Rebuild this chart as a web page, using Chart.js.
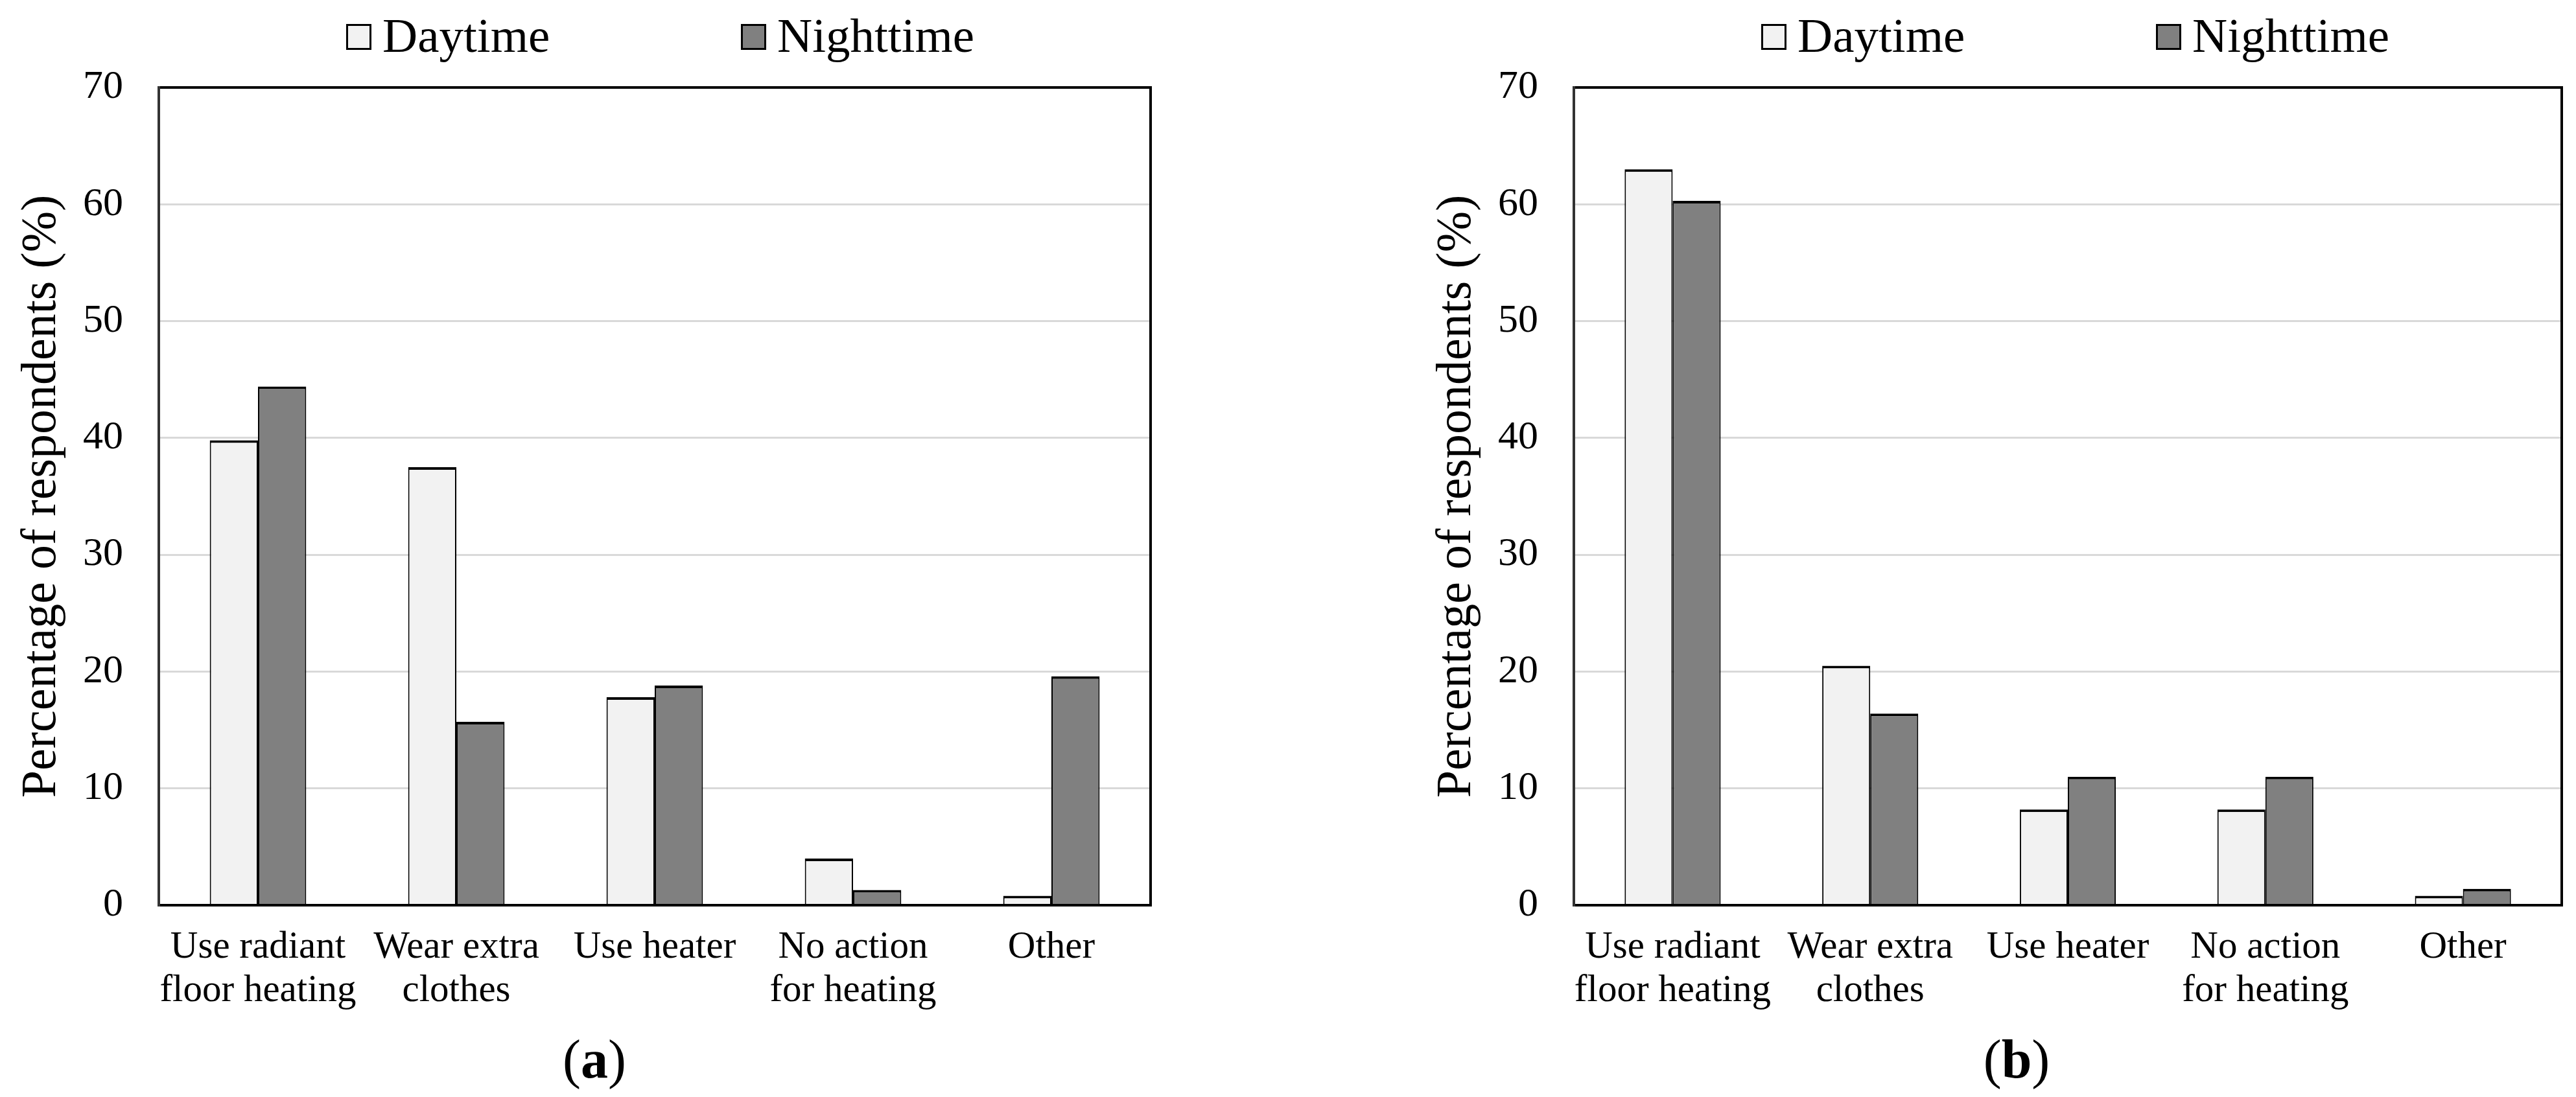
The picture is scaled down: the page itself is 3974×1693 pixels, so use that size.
<!DOCTYPE html>
<html><head><meta charset="utf-8">
<script src="https://cdn.jsdelivr.net/npm/chart.js@4"></script>
<style>
html,body{margin:0;padding:0;background:#fff;}
#wrap{position:relative;width:3974px;height:1693px;background:#fff;}
canvas{position:absolute;top:0;}
</style></head><body>
<div id="wrap">
<canvas id="ca" width="1987" height="1693" style="left:0;width:1987px;height:1693px"></canvas>
<canvas id="cb" width="1987" height="1693" style="left:1987px;width:1987px;height:1693px"></canvas>
</div>
<script>
// ---- data ----
const categories = [["Use radiant","floor heating"],["Wear extra","clothes"],"Use heater",["No action","for heating"],"Other"];
const seriesNames = ["Daytime","Nighttime"];
const dayA   = [39.8, 37.5, 17.8, 4.0, 0.8];
const nightA = [44.4, 15.7, 18.8, 1.3, 19.6];
const dayB   = [63.0, 20.5, 8.2, 8.2, 0.8];
const nightB = [60.3, 16.4, 11.0, 11.0, 1.4];
const yTicks = [0, 10, 20, 30, 40, 50, 60, 70];
const yTitle = "Percentage of respondents (%)";
const panelLabels = ["a", "b"];

const FONT = '"Liberation Serif", "Times New Roman", serif';
Chart.defaults.font.family = FONT;
Chart.defaults.color = '#000';

const fillColors = ['#f2f2f2', '#808080'];

const framePlugin = {
  id: 'frame',
  afterDatasetsDraw(chart) {
    const {ctx, chartArea: a} = chart;
    ctx.save();
    ctx.lineWidth = 4;
    ctx.strokeStyle = '#000';
    ctx.beginPath();
    ctx.moveTo(a.left, a.top); ctx.lineTo(a.right, a.top);
    ctx.moveTo(a.right, a.top - 2); ctx.lineTo(a.right, a.bottom + 2);
    ctx.moveTo(a.left - 2, a.bottom); ctx.lineTo(a.right + 2, a.bottom);
    ctx.stroke();
    ctx.strokeStyle = '#333';
    ctx.beginPath();
    ctx.moveTo(a.left, a.top - 2); ctx.lineTo(a.left, a.bottom + 2);
    ctx.stroke();
    ctx.restore();
  }
};

const legendCaptionPlugin = {
  id: 'legendCaption',
  afterDraw(chart, args, opts) {
    const {ctx, chartArea: a} = chart;
    ctx.save();
    // legend
    chart.data.datasets.forEach((ds, i) => {
      const bx = a.left + opts.itemX[i];
      const by = 37;
      ctx.fillStyle = ds.backgroundColor;
      ctx.fillRect(bx, by, 39, 40);
      ctx.lineWidth = 3;
      ctx.strokeStyle = '#000';
      ctx.strokeRect(bx + 1.5, by + 1.5, 36, 37);
      ctx.fillStyle = '#000';
      ctx.font = '75px ' + FONT;
      ctx.textBaseline = 'alphabetic';
      ctx.textAlign = 'left';
      ctx.fillText(ds.label, bx + 56, 80);
    });
    // caption "(a)"
    const pieces = [['(', 'normal'], [opts.label, 'bold'], [')', 'normal']];
    let total = 0;
    const widths = pieces.map(p => { ctx.font = p[1] + ' 84px ' + FONT; const w = ctx.measureText(p[0]).width; total += w; return w; });
    let x = opts.captionX - total / 2;
    pieces.forEach((p, i) => {
      ctx.font = p[1] + ' 84px ' + FONT;
      ctx.fillText(p[0], x, 1663);
      x += widths[i];
    });
    ctx.restore();
  }
};

function makeChart(id, day, night, lay) {
  return new Chart(document.getElementById(id), {
    type: 'bar',
    data: {
      labels: categories,
      datasets: [
        {label: seriesNames[0], data: day, backgroundColor: fillColors[0], borderColor: '#000',
         borderWidth: {top: 4, left: 2, right: 2, bottom: 0}, borderSkipped: 'bottom',
         barPercentage: 1.0, categoryPercentage: 0.486},
        {label: seriesNames[1], data: night, backgroundColor: fillColors[1], borderColor: '#000',
         borderWidth: {top: 4, left: 2, right: 2, bottom: 0}, borderSkipped: 'bottom',
         barPercentage: 1.0, categoryPercentage: 0.486}
      ]
    },
    options: {
      responsive: false,
      devicePixelRatio: 1,
      animation: false,
      events: [],
      layout: {padding: {left: lay.padLeft, right: lay.padRight, top: 135, bottom: 0}},
      plugins: {
        legend: {display: false},
        tooltip: {enabled: false},
        legendCaption: {itemX: [289, 898], captionX: lay.captionX, label: lay.label}
      },
      scales: {
        x: {
          grid: {display: false, drawTicks: false},
          border: {display: true, color: '#000', width: 4},
          ticks: {font: {size: 59, lineHeight: 1.14}, color: '#000', padding: 32, maxRotation: 0, autoSkip: false},
          afterFit(s) { s.height = 296; }
        },
        y: {
          min: yTicks[0], max: yTicks[yTicks.length - 1],
          afterBuildTicks(s) { s.ticks = yTicks.map(v => ({value: v})); },
          grid: {color: '#d9d9d9', lineWidth: 3, drawTicks: false},
          border: {display: true, color: '#333', width: 4},
          ticks: {font: {size: 62}, color: '#000', padding: 55},
          title: {display: true, text: yTitle, font: {size: 76, lineHeight: 1.2}, color: '#000', padding: {top: 19, bottom: 0}},
          afterFit(s) { s.width = 245; }
        }
      }
    },
    plugins: [framePlugin, legendCaptionPlugin]
  });
}

makeChart('ca', dayA, nightA, {padLeft: 0, padRight: 1987 - 1775, captionX: 917, label: panelLabels[0]});
makeChart('cb', dayB, nightB, {padLeft: 196, padRight: 1987 - 1965, captionX: 1124, label: panelLabels[1]});
</script>
</body></html>
